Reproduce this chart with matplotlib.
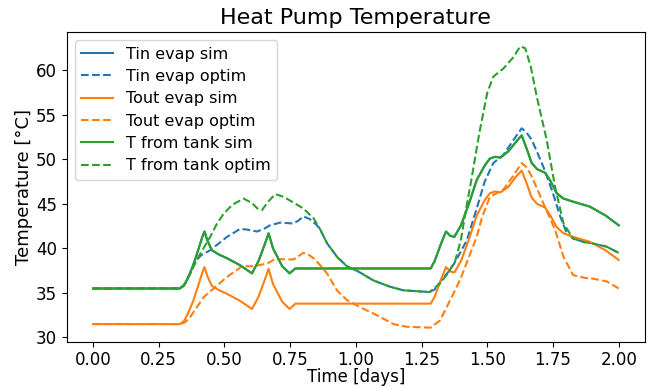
import matplotlib
matplotlib.use("Agg")
import matplotlib.pyplot as plt

# T from tank (sim) -- Tin evap sim follows the same trace
t_sim = [0.0, 0.33, 0.345, 0.36, 0.38, 0.40, 0.415, 0.424, 0.435, 0.452, 0.48, 0.51,
         0.56, 0.585, 0.605, 0.63, 0.655, 0.668, 0.685, 0.72, 0.748, 0.77, 1.285, 1.30,
         1.325, 1.343, 1.36, 1.375, 1.40, 1.43, 1.46, 1.49, 1.51, 1.53, 1.55, 1.58, 1.61,
         1.631, 1.65, 1.669, 1.69, 1.72, 1.74, 1.764, 1.79, 1.827, 1.89, 1.95, 2.0]
tank_sim = [35.5, 35.5, 35.8, 36.6, 38.0, 39.8, 41.2, 41.9, 40.9, 39.8, 39.3, 38.9,
            38.1, 37.6, 37.2, 38.6, 40.6, 41.7, 40.0, 38.0, 37.2, 37.75, 37.75, 38.6,
            40.6, 41.9, 41.4, 41.3, 42.6, 45.0, 47.7, 49.3, 50.1, 50.3, 50.2, 50.9, 52.0,
            52.7, 51.2, 49.6, 48.9, 48.5, 47.6, 46.2, 45.6, 45.25, 44.7, 43.7, 42.6]
tin_sim = list(tank_sim)
tout_sim = [31.5, 31.5, 31.8, 32.6, 34.0, 35.8, 37.2, 37.9, 36.9, 35.8, 35.3, 34.9,
            34.1, 33.6, 33.2, 34.6, 36.6, 37.7, 36.0, 34.0, 33.2, 33.8, 33.8, 34.6,
            36.6, 37.9, 37.4, 37.3, 38.6, 41.0, 43.7, 45.4, 46.2, 46.4, 46.3, 46.9, 48.1,
            48.75, 47.3, 45.7, 45.0, 44.6, 43.7, 42.4, 41.7, 41.3, 40.75, 39.8, 38.7]

# optimised runs
t_tank_opt = [0.0, 0.33, 0.35, 0.37, 0.40, 0.446, 0.47, 0.497, 0.53, 0.573, 0.605, 0.625,
              0.643, 0.665, 0.693, 0.725, 0.757, 0.80, 0.839, 0.865, 0.89, 0.93, 0.966,
              1.01, 1.067, 1.13, 1.18, 1.23, 1.28, 1.32, 1.35, 1.378, 1.40, 1.416, 1.44,
              1.47, 1.50, 1.523, 1.561, 1.60, 1.625, 1.644, 1.665, 1.688, 1.726, 1.758,
              1.79, 1.827, 1.87, 1.903, 1.954, 2.0]
tank_opt = [35.5, 35.5, 36.0, 37.2, 39.0, 41.3, 42.7, 43.9, 44.9, 45.6, 45.1, 44.5,
            44.3, 45.2, 46.1, 45.8, 45.25, 44.5, 43.4, 42.1, 40.6, 39.0, 38.0,
            37.4, 36.4, 35.7, 35.3, 35.2, 35.1, 36.05, 37.2, 38.6, 41.0, 43.9, 47.8,
            53.0, 57.5, 59.3, 60.2, 61.5, 62.7, 62.5, 60.5, 57.1, 52.2, 46.9,
            42.8, 41.1, 40.7, 40.55, 40.2, 39.5]

t_tin_opt = [0.0, 0.33, 0.35, 0.37, 0.383, 0.41, 0.446, 0.48, 0.51, 0.56, 0.59, 0.624,
             0.65, 0.674, 0.712, 0.763, 0.785, 0.80, 0.825, 0.852, 0.865, 0.89, 0.93,
             0.966, 1.01, 1.067, 1.13, 1.18, 1.23, 1.28, 1.30, 1.33, 1.359, 1.38, 1.422,
             1.46, 1.49, 1.523, 1.561, 1.60, 1.631, 1.65, 1.669, 1.69, 1.713, 1.75, 1.775,
             1.80, 1.827, 1.87, 1.903, 1.954, 2.0]
tin_opt = [35.5, 35.5, 36.0, 37.2, 38.3, 39.2, 39.8, 40.6, 41.3, 42.2, 42.1, 41.9,
           42.2, 42.6, 42.9, 42.8, 43.2, 43.6, 43.3, 42.6, 42.1, 40.6, 39.0,
           38.0, 37.4, 36.4, 35.7, 35.3, 35.2, 35.1, 35.4, 36.6, 37.6, 38.6, 40.9,
           44.5, 47.5, 49.6, 50.5, 52.2, 53.5, 53.0, 52.2, 50.8, 49.2, 46.2, 43.8,
           41.9, 41.1, 40.7, 40.55, 40.2, 39.5]

t_tout_opt = [0.0, 0.33, 0.35, 0.37, 0.40, 0.42, 0.459, 0.51, 0.567, 0.61, 0.662, 0.693,
              0.763, 0.785, 0.80, 0.82, 0.839, 0.865, 0.89, 0.928, 0.966, 1.016, 1.08,
              1.143, 1.194, 1.283, 1.32, 1.359, 1.397, 1.435, 1.46, 1.48, 1.51, 1.561,
              1.60, 1.631, 1.65, 1.669, 1.713, 1.758, 1.79, 1.827, 1.87, 1.903, 1.954, 2.0]
tout_opt = [31.5, 31.5, 31.7, 32.3, 33.6, 34.5, 35.5, 36.8, 38.0, 38.0, 38.3, 38.8,
            38.76, 39.2, 39.5, 39.3, 38.9, 38.1, 37.2, 35.3, 34.2, 33.4, 32.5,
            31.5, 31.2, 31.1, 31.9, 34.2, 36.5, 39.4, 41.3, 43.5, 45.8, 46.6,
            48.2, 49.6, 49.1, 48.1, 45.1, 42.1, 39.05, 37.0, 36.7, 36.6, 36.3, 35.5]

fig = plt.figure(figsize=(6.49, 3.87), dpi=100)
ax = fig.add_axes([0.1028, 0.117, 0.891, 0.7995])

ax.plot(t_sim, tin_sim, color='C0', linestyle='-', label='Tin evap sim')
ax.plot(t_tin_opt, tin_opt, color='C0', linestyle='--', label='Tin evap optim')
ax.plot(t_sim, tout_sim, color='C1', linestyle='-', label='Tout evap sim')
ax.plot(t_tout_opt, tout_opt, color='C1', linestyle='--', label='Tout evap optim')
ax.plot(t_sim, tank_sim, color='C2', linestyle='-', label='T from tank sim')
ax.plot(t_tank_opt, tank_opt, color='C2', linestyle='--', label='T from tank optim')

ax.set_title('Heat Pump Temperature', fontsize=16)
ax.set_xlabel('Time [days]', fontsize=12, labelpad=-1)
ax.set_ylabel('Temperature [°C]', fontsize=13, labelpad=2)
ax.tick_params(labelsize=12)
ax.set_xticks([0.0, 0.25, 0.5, 0.75, 1.0, 1.25, 1.5, 1.75, 2.0])
ax.set_yticks([30, 35, 40, 45, 50, 55, 60])
ax.legend(loc='upper left', fontsize=11.5, labelspacing=0.46)

fig.savefig('out.png', dpi=100)
